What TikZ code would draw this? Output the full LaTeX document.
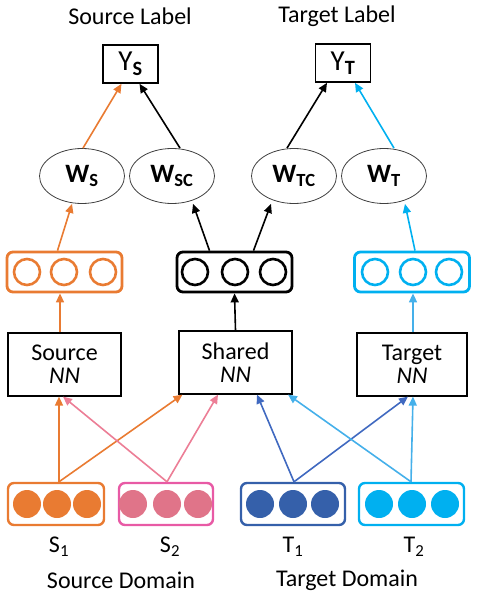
\documentclass[tikz,border=0pt]{standalone}
\usepackage{fontspec}
\setmainfont{Carlito}
\usetikzlibrary{arrows.meta,shapes.geometric}
\definecolor{cor}{HTML}{E97B32}
\definecolor{cpk}{HTML}{E07489}
\definecolor{cpkline}{HTML}{E85AA5}
\definecolor{cpkarr}{HTML}{EC7E96}
\definecolor{cbl}{HTML}{3560AA}
\definecolor{cblarr}{HTML}{4069C0}
\definecolor{ccy}{HTML}{00B0F0}
\definecolor{ccyarr}{HTML}{45B0EA}
\begin{document}
\begin{tikzpicture}[x=1pt,y=-1pt,
  every node/.style={font=\fontsize{24}{26}\selectfont},
  lab/.style={inner sep=0pt},
  ybox/.style={draw,line width=1.6pt,minimum width=55pt,minimum height=38pt,inner sep=0pt},
  wnode/.style={draw=black!75,line width=0.8pt,ellipse,minimum width=85pt,minimum height=55pt,inner sep=0pt,font=\fontsize{26.5}{28}\selectfont\bfseries},
  nnbox/.style={draw,line width=1.2pt,minimum width=113pt,minimum height=63pt,inner sep=0pt,align=center,font=\fontsize{24}{26}\selectfont},
  vbox/.style={rounded corners=6pt,line width=2.8pt,minimum width=115pt,minimum height=40pt,inner sep=0pt},
  ibox/.style={rounded corners=6pt,line width=2.4pt,minimum height=42pt,inner sep=0pt},
  oc/.style={circle,line width=2.6pt,minimum size=26pt,inner sep=0pt},
  fc/.style={circle,minimum size=28pt,inner sep=0pt},
  arr/.style={line width=1.6pt,-{Triangle[length=9pt,width=8pt]}},
]
\useasboundingbox (0,0) rectangle (484,594);

% titles
\node[lab] (tsl) at (130,16) {Source Label};
\node[lab] (ttl) at (337,16) {Target Label};

% output boxes
\node[ybox] (ys) at (130.5,64) {\fontsize{29}{30}\selectfont Y\textsubscript{\bfseries S}};
\node[ybox] (yt) at (343,63) {\fontsize{29}{30}\selectfont Y\textsubscript{\bfseries T}};

% W ellipses
\node[wnode] (ws) at (82,176) {W\textsubscript{S}};
\node[wnode] (wsc) at (172,176) {W\textsubscript{SC}};
\node[wnode] (wtc) at (294,176) {W\textsubscript{TC}};
\node[wnode] (wt) at (384,176) {W\textsubscript{T}};

% hidden vectors
\node[vbox,draw=cor] (hs) at (64.5,272) {};
\node[vbox,draw=black] (hc) at (234.5,272) {};
\node[vbox,draw=ccy] (ht) at (412,272) {};
\foreach \x [count=\i] in {27,64,103} \node[oc,draw=cor] (hs\i) at (\x,272) {};
\foreach \x [count=\i] in {195,235,273} \node[oc,draw=black] (hc\i) at (\x,272) {};
\foreach \x [count=\i] in {375,413,449} \node[oc,draw=ccy] (ht\i) at (\x,272) {};

% NN boxes
\node[nnbox] (sn) at (64.5,364.5) {Source\\[-3pt]\textit{NN}};
\node[nnbox] (shn) at (235.5,362.5) {Shared\\[-3pt]\textit{NN}};
\node[nnbox,minimum width=110pt] (tn) at (412,364.5) {Target\\[-3pt]\textit{NN}};

% input boxes
\node[ibox,draw=cor,minimum width=96pt] (s1) at (56,504) {};
\node[ibox,draw=cpkline,minimum width=94pt] (s2) at (166,504) {};
\node[ibox,draw=cbl,minimum width=104pt] (t1) at (293,504) {};
\node[ibox,draw=ccy,minimum width=105pt] (t2) at (411.5,504) {};
\foreach \x [count=\i] in {27,57,87} \node[fc,fill=cor] (s1c\i) at (\x,504) {};
\foreach \x [count=\i] in {133,167,198} \node[fc,fill=cpk] (s2c\i) at (\x,504) {};
\foreach \x [count=\i] in {260,293,325} \node[fc,fill=cbl] (t1c\i) at (\x,504) {};
\foreach \x [count=\i] in {379,412,445} \node[fc,fill=ccy] (t2c\i) at (\x,504) {};

% input labels
\node[lab] (ls1) at (59,547) {S\textsubscript{1}};
\node[lab] (ls2) at (170,547) {S\textsubscript{2}};
\node[lab] (lt1) at (293,547) {T\textsubscript{1}};
\node[lab] (lt2) at (414,547) {T\textsubscript{2}};
\node[lab] (tsd) at (121,580) {Source Domain};
\node[lab] (ttd) at (347,580) {Target Domain};

% arrows W -> Y
\draw[arr,cor] (ws.north) ++(1,0) -- ([xshift=-9pt]ys.south);
\draw[arr,black] (wsc.north) ++(8,0) -- ([xshift=9pt]ys.south);
\draw[arr,black] (wtc.north) ++(-7,0) -- ([xshift=-16pt]yt.south);
\draw[arr,ccy] (wt.north) ++(10,0) -- ([xshift=12pt]yt.south);

% arrows hidden -> W
\draw[arr,cor] ([xshift=-7pt]hs.north) -- ([xshift=-10pt]ws.south);
\draw[arr,black] ([xshift=-25pt]hc.north) -- ([xshift=21pt]wsc.south);
\draw[arr,black] ([xshift=19pt]hc.north) -- ([xshift=-23pt]wtc.south);
\draw[arr,ccy] ([xshift=3pt]ht.north) -- ([xshift=21pt]wt.south);

% NN -> hidden
\draw[arr,cor] ([xshift=-4.5pt]sn.north) -- ([xshift=-4.5pt]hs.south);
\draw[arr,black] (shn.north) -- (hc.south);
\draw[arr,ccyarr] ([xshift=1pt]tn.north) -- ([xshift=1pt]ht.south);

% inputs -> NN
\draw[arr,cor] ([xshift=3pt]s1.north) -- ([xshift=-5.5pt]sn.south);
\draw[arr,cor] ([xshift=3pt]s1.north) -- ([xshift=-53pt]shn.south);
\draw[arr,cpkarr] ([xshift=1pt]s2.north) -- ([xshift=-1.5pt]sn.south);
\draw[arr,cpkarr] ([xshift=1pt]s2.north) -- ([xshift=-17.5pt]shn.south);
\draw[arr,cblarr] ([xshift=1pt]t1.north) -- ([xshift=21.5pt]shn.south);
\draw[arr,cblarr] ([xshift=1pt]t1.north) -- ([xshift=-4pt]tn.south);
\draw[arr,ccyarr] ([xshift=-0.5pt]t2.north) -- ([xshift=52.5pt]shn.south);
\draw[arr,ccyarr] ([xshift=-0.5pt]t2.north) -- ([xshift=1pt]tn.south);
\end{tikzpicture}
\end{document}
